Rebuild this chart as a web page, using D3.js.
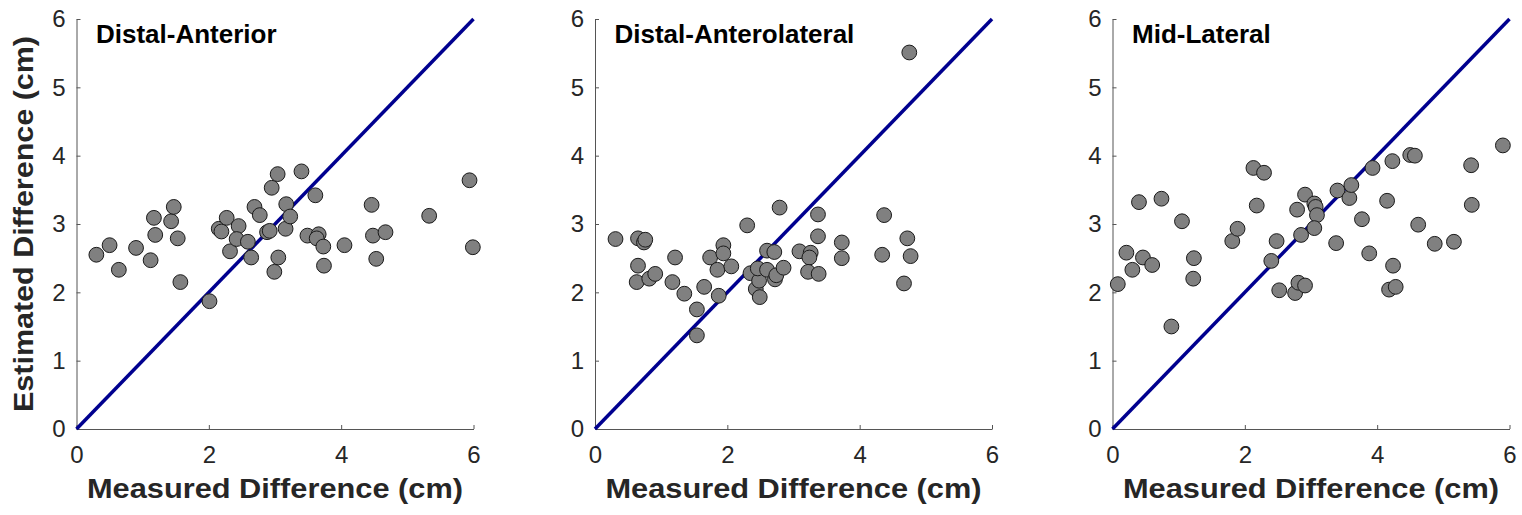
<!DOCTYPE html>
<html>
<head>
<meta charset="utf-8">
<script src="https://cdn.jsdelivr.net/npm/d3@7"></script>
<style>
  html, body { margin: 0; padding: 0; background: #fff; }
  svg { display: block; }
  text { font-family: "Liberation Sans", Arial, Helvetica, sans-serif; }
</style>
</head>
<body>
<svg id="chart" width="1522" height="515"></svg>
<script>
// ---------- data ----------
const panelTitles = ["Distal-Anterior", "Distal-Anterolateral", "Mid-Lateral"];
const xTicks = [0, 2, 4, 6];
const yTicks = [0, 1, 2, 3, 4, 5, 6];
const xLabel = "Measured Difference (cm)";
const yLabel = "Estimated Difference (cm)";

const anteriorX = [0.30,0.50,0.64,0.90,1.12,1.17,1.19,1.43,1.47,1.53,1.57,2.01,2.15,2.19,2.27,2.32,2.45,2.42,2.59,2.64,2.69,2.77,2.88,2.92,2.95,3.04,3.05,2.99,3.16,3.17,3.23,3.40,3.49,3.61,3.66,3.63,3.73,3.74,4.05,4.46,4.48,4.53,4.67,5.33,5.94,5.99];
const anteriorY = [2.55,2.69,2.33,2.65,2.47,3.09,2.84,3.04,3.25,2.79,2.15,1.87,2.93,2.89,3.09,2.60,2.97,2.78,2.74,2.51,3.25,3.13,2.88,2.90,3.53,3.73,2.51,2.30,2.93,3.29,3.11,3.77,2.83,3.42,2.85,2.79,2.67,2.39,2.69,3.28,2.83,2.49,2.88,3.12,3.64,2.66];

const anterolateralX = [0.31,0.65,0.74,0.76,0.65,0.63,0.82,0.91,1.21,1.17,1.35,1.54,1.54,1.65,1.74,1.85,1.87,1.94,1.94,2.06,2.30,2.35,2.43,2.48,2.49,2.46,2.60,2.71,2.60,2.72,2.74,2.85,2.79,3.09,3.26,3.24,3.22,3.38,3.37,3.37,3.73,3.73,4.37,4.34,4.72,4.77,4.67,4.75];
const anterolateralY = [2.78,2.79,2.73,2.77,2.39,2.15,2.20,2.27,2.51,2.15,1.98,1.75,1.37,2.08,2.51,2.33,1.95,2.69,2.57,2.38,2.98,2.28,2.05,2.17,1.93,2.35,2.61,2.59,2.33,2.19,2.25,2.36,3.24,2.60,2.58,2.51,2.30,2.27,3.14,2.82,2.73,2.50,3.13,2.55,2.79,2.53,2.13,5.51];

const midLateralX = [0.08,0.21,0.30,0.40,0.46,0.60,0.74,0.89,1.05,1.23,1.22,1.81,1.89,2.13,2.29,2.18,2.40,2.48,2.52,2.76,2.81,2.91,2.79,2.85,2.91,3.05,3.07,3.09,3.05,3.38,3.40,3.58,3.61,3.77,3.88,3.93,4.15,4.18,4.28,4.24,4.23,4.50,4.57,4.62,4.87,5.16,5.42,5.43,5.90];
const midLateralY = [2.12,2.58,2.33,3.32,2.51,2.40,3.37,1.50,3.04,2.50,2.20,2.75,2.93,3.82,3.75,3.27,2.46,2.75,2.03,1.99,2.14,2.10,3.21,2.84,3.43,3.30,3.25,3.13,2.94,2.72,3.49,3.38,3.57,3.07,2.57,3.82,3.34,2.04,2.08,2.39,3.92,4.01,4.00,2.99,2.71,2.74,3.86,3.28,4.15];

const panelXs = [anteriorX, anterolateralX, midLateralX];
const panelYs = [anteriorY, anterolateralY, midLateralY];

// ---------- layout ----------
const svg = d3.select("#chart");
svg.append("rect").attr("width", 1522).attr("height", 515).attr("fill", "#fff");

const panelLeft = [76.5, 595, 1112.5];
const panelWidth = 397;
const plotTop = 19, plotBottom = 429;
const axisColor = "#555";
const textColor = "#262626";
const fmt = d3.format("d");

panelTitles.forEach((title, i) => {
  const x = d3.scaleLinear().domain([0, 6]).range([panelLeft[i], panelLeft[i] + panelWidth]);
  const y = d3.scaleLinear().domain([0, 6]).range([plotBottom, plotTop]);
  const g = svg.append("g");

  // bottom axis
  const xAxis = d3.axisBottom(x).tickValues(xTicks).tickFormat(fmt)
    .tickSizeInner(-4).tickSizeOuter(0).tickPadding(17);
  const gx = g.append("g").attr("transform", `translate(0,${plotBottom})`).call(xAxis);
  gx.select(".domain").attr("stroke", axisColor).attr("stroke-width", 1);
  gx.selectAll(".tick line").attr("stroke", axisColor);
  gx.selectAll(".tick text").attr("font-size", 24).attr("fill", textColor)
    .attr("font-family", "'Liberation Sans', Arial, sans-serif");

  // left axis
  const yAxis = d3.axisLeft(y).tickValues(yTicks).tickFormat(fmt)
    .tickSizeInner(-4).tickSizeOuter(0).tickPadding(11);
  const gy = g.append("g").attr("transform", `translate(${panelLeft[i]},0)`).call(yAxis);
  gy.select(".domain").attr("stroke", axisColor).attr("stroke-width", 1);
  gy.selectAll(".tick line").attr("stroke", axisColor);
  gy.selectAll(".tick text").attr("font-size", 24).attr("fill", textColor)
    .attr("font-family", "'Liberation Sans', Arial, sans-serif");

  // identity line
  g.append("line")
    .attr("x1", x(0)).attr("y1", y(0))
    .attr("x2", x(6)).attr("y2", y(6))
    .attr("stroke", "#00008f").attr("stroke-width", 3.5);

  // points
  const pts = panelXs[i].map((v, k) => [v, panelYs[i][k]]);
  g.append("g").selectAll("circle").data(pts).join("circle")
    .attr("cx", d => x(d[0])).attr("cy", d => y(d[1]))
    .attr("r", 7.4)
    .attr("fill", "#808080").attr("stroke", "#1a1a1a").attr("stroke-width", 1);

  // title
  g.append("text")
    .attr("x", panelLeft[i] + 19.5).attr("y", 42.5)
    .attr("font-size", 26).attr("font-weight", "bold").attr("fill", "#000")
    .text(title);

  // x label
  g.append("text")
    .attr("x", panelLeft[i] + panelWidth / 2).attr("y", 498)
    .attr("text-anchor", "middle")
    .attr("font-size", 28).attr("font-weight", "bold").attr("fill", textColor)
    .attr("textLength", 376).attr("lengthAdjust", "spacingAndGlyphs")
    .text(xLabel);
});

// y label
svg.append("text")
  .attr("transform", `translate(33,${(plotTop + plotBottom) / 2}) rotate(-90)`)
  .attr("text-anchor", "middle")
  .attr("font-size", 28).attr("font-weight", "bold").attr("fill", textColor)
  .attr("textLength", 376).attr("lengthAdjust", "spacingAndGlyphs")
  .text(yLabel);
</script>
</body>
</html>
